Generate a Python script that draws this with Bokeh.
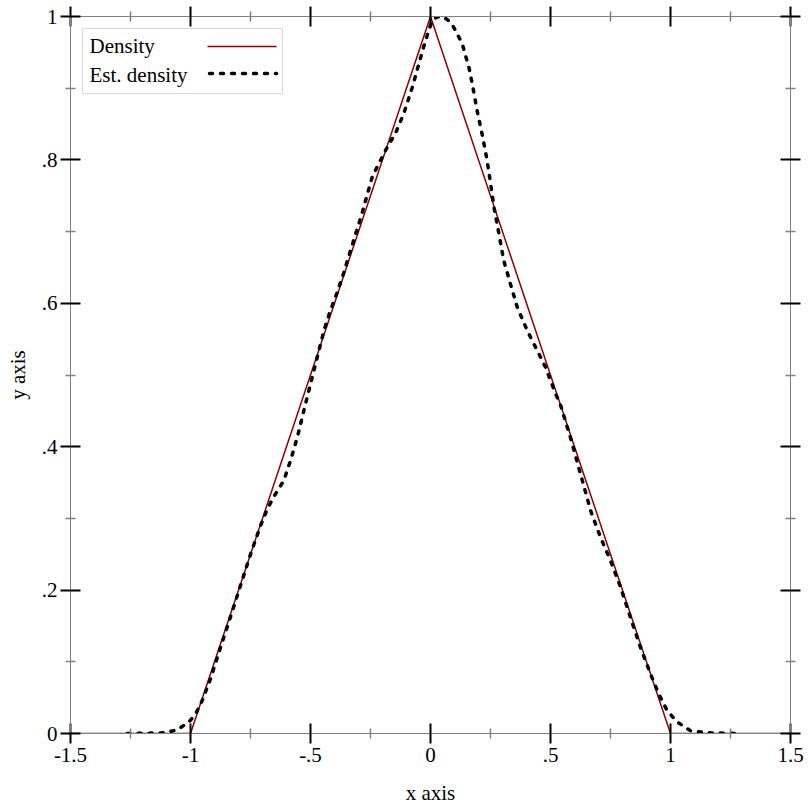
from bokeh.plotting import figure
from bokeh.models import (FixedTicker, LinearAxis, Range1d, BoxAnnotation, Label,
                          Arrow, ColumnDataSource)
from bokeh.embed import file_html
from bokeh.resources import INLINE

# ---------------- data ----------------
density_x = [-1.5, -1.0, 0.0, 1.0, 1.5]
density_y = [0.0, 0.0, 1.0, 0.0, 0.0]

est_x = [-1.264, -1.2, -1.11, -1.056, -1.007, -0.979, -0.951, -0.917, -0.875, -0.833,
         -0.792, -0.75, -0.708, -0.68, -0.653, -0.611, -0.583, -0.555, -0.528, -0.507,
         -0.486, -0.465, -0.444, -0.417, -0.389, -0.361, -0.333, -0.29, -0.243, -0.215,
         -0.18, -0.146, -0.111, -0.076, -0.056, -0.029, -0.008, 0.007, 0.025, 0.042,
         0.06, 0.076, 0.095, 0.111, 0.132, 0.16, 0.174, 0.194, 0.215, 0.236,
         0.25, 0.264, 0.285, 0.305, 0.333, 0.361, 0.403, 0.445, 0.479, 0.521,
         0.542, 0.57, 0.583, 0.625, 0.667, 0.708, 0.75, 0.792, 0.833, 0.875,
         0.917, 0.951, 0.986, 1.028, 1.083, 1.15, 1.29]
est_y = [0.0, 0.0003, 0.001, 0.005, 0.016, 0.027, 0.046, 0.076, 0.12, 0.163,
         0.206, 0.25, 0.29, 0.313, 0.33, 0.353, 0.381, 0.413, 0.45, 0.478,
         0.506, 0.534, 0.562, 0.59, 0.615, 0.643, 0.674, 0.72, 0.776, 0.795,
         0.818, 0.837, 0.865, 0.901, 0.925, 0.957, 0.98, 0.994, 0.999, 1.0,
         0.998, 0.994, 0.986, 0.976, 0.962, 0.929, 0.906, 0.869, 0.836, 0.799,
         0.768, 0.735, 0.697, 0.66, 0.627, 0.595, 0.562, 0.534, 0.511, 0.474,
         0.458, 0.427, 0.413, 0.362, 0.311, 0.274, 0.241, 0.204, 0.162, 0.12,
         0.083, 0.055, 0.032, 0.016, 0.004, 0.001, 0.0]

x_major_ticks = [-1.5, -1.0, -0.5, 0.0, 0.5, 1.0, 1.5]
x_tick_labels = ["-1.5", "-1", "-.5", "0", ".5", "1", "1.5"]
x_minor_ticks = [-1.25, -0.75, -0.25, 0.25, 0.75, 1.25]
y_major_ticks = [0.0, 0.2, 0.4, 0.6, 0.8, 1.0]
y_tick_labels = ["0", ".2", ".4", ".6", ".8", "1"]
y_minor_ticks = [0.1, 0.3, 0.5, 0.7, 0.9]
legend_labels = ["Density", "Est. density"]

FONT = "Liberation Serif"
FSIZE = "21px"
RED = "#8b0000"
GRAY = "#808080"

p = figure(frame_width=720, frame_height=717,
           x_range=Range1d(-1.5, 1.5), y_range=Range1d(0, 1),
           output_backend="svg", toolbar_location=None,
           x_axis_label="x axis", y_axis_label="y axis",
           min_border_left=70, min_border_right=20, min_border_top=16, min_border_bottom=78)
p.outline_line_color = None
p.xgrid.visible = False
p.ygrid.visible = False
p.background_fill_color = "white"
p.border_fill_color = "white"

src_d = ColumnDataSource(dict(x=density_x, y=density_y))
src_e = ColumnDataSource(dict(x=est_x, y=est_y))
p.line("x", "y", source=src_d, line_color=RED, line_width=1.5)
p.line("x", "y", source=src_e, line_color="black", line_width=3.5,
       line_dash="3 8", line_cap="round")

x_ticker = FixedTicker(ticks=x_major_ticks, minor_ticks=x_minor_ticks)
y_ticker = FixedTicker(ticks=y_major_ticks, minor_ticks=y_minor_ticks)


def style_axis(ax, tick_out=10):
    ax.axis_line_color = GRAY
    ax.axis_line_width = 1
    ax.major_tick_line_color = "black"
    ax.major_tick_line_width = 2
    ax.major_tick_in = 10
    ax.major_tick_out = tick_out
    ax.minor_tick_line_color = GRAY
    ax.minor_tick_line_width = 1.5
    ax.minor_tick_in = 5
    ax.minor_tick_out = 5
    ax.major_label_text_font = FONT
    ax.major_label_text_font_size = FSIZE
    ax.major_label_text_color = "black"
    ax.axis_label_text_font = FONT
    ax.axis_label_text_font_size = FSIZE
    ax.axis_label_text_font_style = "normal"
    ax.axis_label_text_color = "black"


xa = p.xaxis[0]
xa.ticker = x_ticker
xa.major_label_overrides = dict(zip(x_major_ticks, x_tick_labels))
style_axis(xa)
xa.major_label_standoff = 4
xa.axis_label_standoff = 16

ya = p.yaxis[0]
ya.ticker = y_ticker
ya.major_label_overrides = dict(zip(y_major_ticks, y_tick_labels))
style_axis(ya)
ya.major_label_standoff = 3
ya.axis_label_standoff = 9

top = LinearAxis(ticker=x_ticker)
style_axis(top)
top.major_label_overrides = {t: "" for t in x_major_ticks}
top.major_label_standoff = 0
p.add_layout(top, "above")

right = LinearAxis(ticker=y_ticker)
style_axis(right)
right.major_label_overrides = {t: "" for t in y_major_ticks}
right.major_label_standoff = 0
p.add_layout(right, "right")

# ---------------- legend (label left, sample right) ----------------
p.add_layout(BoxAnnotation(left=12, right=212, top=705, bottom=640,
                           left_units="screen", right_units="screen",
                           top_units="screen", bottom_units="screen",
                           fill_color="white", fill_alpha=1.0,
                           line_color=GRAY, line_width=1))
p.add_layout(Label(x=19, y=688, x_units="screen", y_units="screen",
                   text=legend_labels[0], text_font=FONT, text_font_size=FSIZE,
                   text_baseline="alphabetic", text_color="black"))
p.add_layout(Label(x=19, y=659, x_units="screen", y_units="screen",
                   text=legend_labels[1], text_font=FONT, text_font_size=FSIZE,
                   text_baseline="alphabetic", text_color="black"))
p.add_layout(Arrow(start=None, end=None, x_start=137, y_start=687, x_end=206, y_end=687,
                   start_units="screen", end_units="screen",
                   line_color=RED, line_width=1.5))
p.add_layout(Arrow(start=None, end=None, x_start=139, y_start=660, x_end=206, y_end=660,
                   start_units="screen", end_units="screen",
                   line_color="black", line_width=3.5, line_dash="3 8", line_cap="round"))

open("out.html", "w").write(file_html(p, INLINE))
